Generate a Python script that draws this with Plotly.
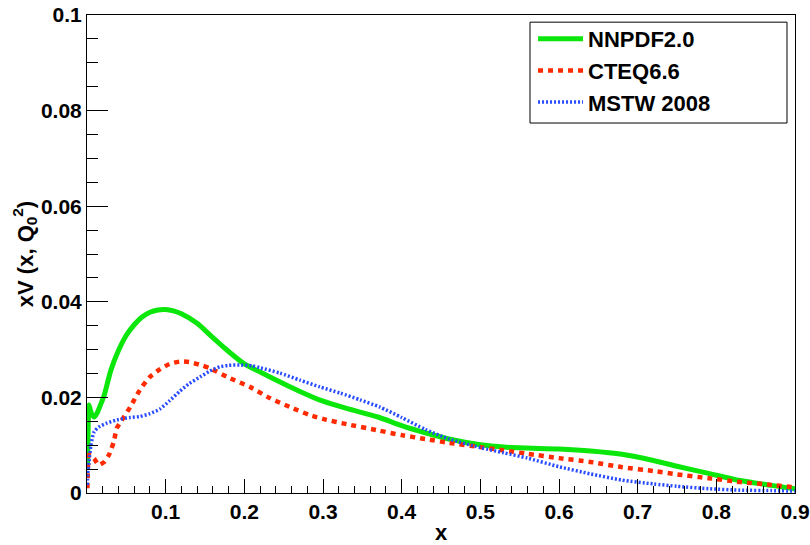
import plotly.graph_objects as go

# NNPDF2.0
x_nnpdf = [0.0005, 0.001, 0.0025, 0.004, 0.006, 0.009, 0.013, 0.018, 0.022, 0.03, 0.04, 0.05, 0.06, 0.07,
           0.08, 0.09, 0.10, 0.11, 0.12, 0.14, 0.16, 0.18, 0.20, 0.23, 0.27, 0.30, 0.33, 0.37,
           0.40, 0.43, 0.46, 0.50, 0.53, 0.56, 0.60, 0.64, 0.68, 0.72, 0.75, 0.79, 0.83, 0.87, 0.90]
y_nnpdf = [0.005, 0.009, 0.0184, 0.0175, 0.0165, 0.0159, 0.0168, 0.0188, 0.0205, 0.0255, 0.0298, 0.0330,
           0.0352, 0.0368, 0.0378, 0.0383, 0.0384, 0.0381, 0.0375, 0.0355, 0.0325, 0.0296, 0.0270,
           0.0245, 0.0213, 0.0192, 0.0177, 0.0159, 0.0141, 0.0126, 0.0113, 0.0101, 0.0096, 0.0094,
           0.0092, 0.0088, 0.0081, 0.0068, 0.0056, 0.0041, 0.0026, 0.0016, 0.0009]

# CTEQ6.6
x_cteq = [0.0005, 0.001, 0.0025, 0.005, 0.009, 0.015, 0.022, 0.028, 0.034, 0.038, 0.043, 0.055, 0.067,
          0.08, 0.093, 0.105, 0.118, 0.13, 0.144, 0.156, 0.182, 0.207, 0.233, 0.258, 0.283, 0.30,
          0.33, 0.37, 0.40, 0.43, 0.46, 0.50, 0.53, 0.56, 0.60, 0.64, 0.68, 0.72, 0.75, 0.79, 0.83,
          0.87, 0.90]
y_cteq = [0.001, 0.004, 0.008, 0.0078, 0.0072, 0.0059, 0.0065, 0.0080, 0.0107, 0.0136, 0.0149, 0.0180,
          0.0215, 0.0243, 0.0259, 0.0270, 0.0275, 0.0274, 0.0268, 0.0261, 0.0240, 0.0222, 0.0198,
          0.0180, 0.0163, 0.0155, 0.0144, 0.0131, 0.0121, 0.0113, 0.0105, 0.0096, 0.0089, 0.0082,
          0.0073, 0.0065, 0.0054, 0.0046, 0.0039, 0.0031, 0.0023, 0.0017, 0.0012]

# MSTW 2008
x_mstw = [0.0005, 0.001, 0.0025, 0.005, 0.009, 0.015, 0.025, 0.038, 0.055, 0.067, 0.08, 0.093, 0.105,
          0.118, 0.13, 0.144, 0.156, 0.169, 0.18, 0.194, 0.21, 0.22, 0.245, 0.271, 0.296, 0.322,
          0.347, 0.372, 0.40, 0.43, 0.46, 0.50, 0.53, 0.56, 0.60, 0.64, 0.68, 0.72, 0.75, 0.79,
          0.83, 0.87, 0.90]
y_mstw = [0.0017, 0.004, 0.0065, 0.010, 0.0128, 0.0138, 0.0146, 0.0153, 0.0158, 0.0160, 0.0166, 0.0176,
          0.0193, 0.0213, 0.0229, 0.0243, 0.0255, 0.0264, 0.0267, 0.0268, 0.0266, 0.0262, 0.0251,
          0.0236, 0.0222, 0.0209, 0.0195, 0.0180, 0.0158, 0.0133, 0.0113, 0.0095, 0.0084, 0.0073,
          0.0055, 0.0040, 0.0027, 0.0019, 0.0014, 0.0009, 0.0006, 0.0005, 0.0004]

x_ticks = [0.1, 0.2, 0.3, 0.4, 0.5, 0.6, 0.7, 0.8, 0.9]
y_ticks = [0, 0.02, 0.04, 0.06, 0.08, 0.1]
y_labels = ["0", "0.02", "0.04", "0.06", "0.08", "0.1"]

FONT = "Liberation Sans, Arial, Helvetica, sans-serif"

fig = go.Figure()
fig.add_trace(go.Scatter(x=x_nnpdf, y=y_nnpdf, mode="lines", name="NNPDF2.0", legendgroup="a",
                         line=dict(color="#0be60b", width=5, shape="spline", smoothing=0.6)))
fig.add_trace(go.Scatter(x=x_cteq, y=y_cteq, mode="lines", name="CTEQ6.6", legendgroup="b",
                         line=dict(color="#ff2a00", width=4.5, dash="5px,5px", shape="spline", smoothing=0.6)))
fig.add_trace(go.Scatter(x=x_mstw, y=y_mstw, mode="lines", name="MSTW 2008", legendgroup="c",
                         line=dict(color="#2a4cff", width=3.5, dash="2px,2px", shape="spline", smoothing=0.6)))

# legend frame (ROOT-style fixed box)
fig.add_shape(type="rect", xref="paper", yref="paper", x0=0.6257, x1=0.9887, y0=0.774, y1=0.985,
              line=dict(color="black", width=1), fillcolor="rgba(0,0,0,0)", layer="above")

fig.update_layout(
    width=810, height=545,
    margin=dict(l=87, r=15, t=15, b=52),
    paper_bgcolor="white", plot_bgcolor="white",
    font=dict(family=FONT, size=22, color="black", weight="bold"),
    showlegend=True,
    legend=dict(x=0.630, xanchor="left", y=0.9937, yanchor="top",
                borderwidth=0, bgcolor="rgba(0,0,0,0)",
                font=dict(family=FONT, size=22, color="black", weight="bold"),
                traceorder="grouped", tracegroupgap=0, itemwidth=45),
    xaxis=dict(range=[0, 0.9], tickmode="array", tickvals=x_ticks, automargin=False,
               ticks="inside", ticklen=14, tickwidth=1, tickcolor="black",
               showline=True, linecolor="black", linewidth=1, mirror=True,
               showgrid=False, zeroline=False, ticklabelstandoff=0,
               tickfont=dict(family=FONT, size=21, weight="bold"),
               minor=dict(tickmode="linear", tick0=0, dtick=0.02, ticks="inside", ticklen=7,
                          tickcolor="black", showgrid=False),
               title=dict(text="x", font=dict(family=FONT, size=22, weight="bold"), standoff=2)),
    yaxis=dict(range=[0, 0.1], tickmode="array", tickvals=y_ticks, ticktext=y_labels, automargin=False,
               ticks="inside", ticklen=21, tickwidth=1, tickcolor="black",
               showline=True, linecolor="black", linewidth=1, mirror=True,
               showgrid=False, zeroline=False,
               tickfont=dict(family=FONT, size=21, weight="bold"),
               minor=dict(tickmode="linear", tick0=0, dtick=0.005, ticks="inside", ticklen=11,
                          tickcolor="black", showgrid=False),
               title=dict(text="xV (x, Q<sub>0</sub><sup>2</sup>)",
                          font=dict(family=FONT, size=22, weight="bold"), standoff=1)),
)

fig.write_html("out.html")
